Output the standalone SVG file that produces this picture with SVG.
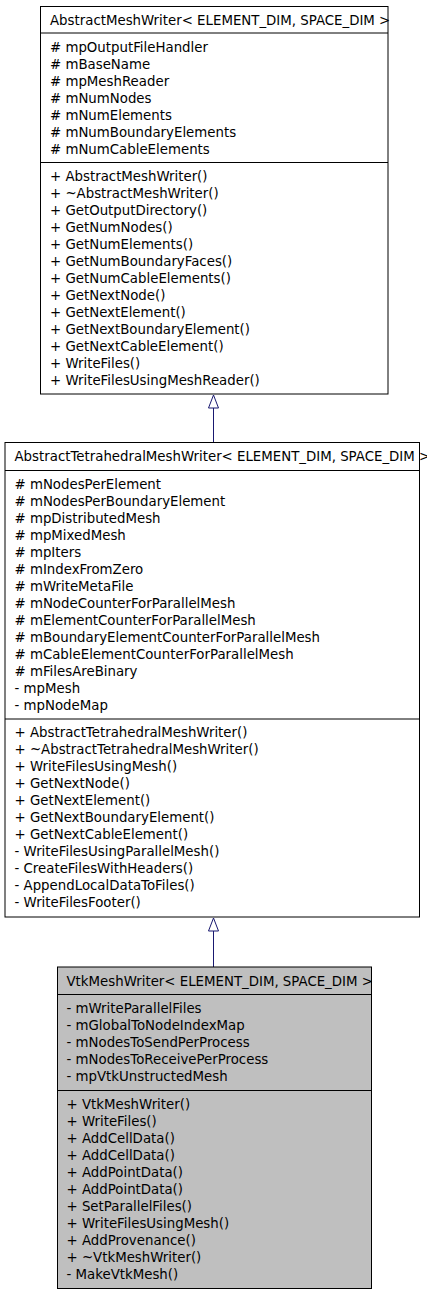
<svg xmlns="http://www.w3.org/2000/svg" width="427" height="1293" viewBox="0 0 427 1293">
<style>
text{font-family:"DejaVu Sans","Liberation Sans",sans-serif;font-size:13.33px;fill:#000}
.box{fill:#fff;stroke:#000;stroke-width:1}
.cur{fill:#bfbfbf;stroke:#000;stroke-width:1}
.sep{stroke:#000;stroke-width:1;fill:none}
.edge{stroke:#191970;stroke-width:1;fill:none}
.head{fill:#fff;stroke:#191970;stroke-width:1}
</style>
<rect width="427" height="1293" fill="#fff"/>
<g id="connectors">
<path class="edge" d="M213.5,408 V442.5"/>
<polygon class="head" points="213.5,395 208.5,408 218.5,408"/>
<path class="edge" d="M213.5,931 V967"/>
<polygon class="head" points="213.5,918 208.5,931 218.5,931"/>
</g>
<g id="AbstractMeshWriter">
<rect class="box" x="40.5" y="6.5" width="347.5" height="387.5"/>
<line class="sep" x1="40.5" y1="33" x2="388" y2="33"/>
<line class="sep" x1="40.5" y1="162.5" x2="388" y2="162.5"/>
<text x="50" y="25">AbstractMeshWriter&lt; ELEMENT_DIM, SPACE_DIM &gt;</text>
<text x="50" y="51.5"># mpOutputFileHandler</text>
<text x="50" y="68.5"># mBaseName</text>
<text x="50" y="85.5"># mpMeshReader</text>
<text x="50" y="102.5"># mNumNodes</text>
<text x="50" y="119.5"># mNumElements</text>
<text x="50" y="136.5"># mNumBoundaryElements</text>
<text x="50" y="153.5"># mNumCableElements</text>
<text x="50" y="180.5">+ AbstractMeshWriter()</text>
<text x="50" y="197.5">+ ~AbstractMeshWriter()</text>
<text x="50" y="214.5">+ GetOutputDirectory()</text>
<text x="50" y="231.5">+ GetNumNodes()</text>
<text x="50" y="248.5">+ GetNumElements()</text>
<text x="50" y="265.5">+ GetNumBoundaryFaces()</text>
<text x="50" y="282.5">+ GetNumCableElements()</text>
<text x="50" y="299.5">+ GetNextNode()</text>
<text x="50" y="316.5">+ GetNextElement()</text>
<text x="50" y="333.5">+ GetNextBoundaryElement()</text>
<text x="50" y="350.5">+ GetNextCableElement()</text>
<text x="50" y="367.5">+ WriteFiles()</text>
<text x="50" y="384.5">+ WriteFilesUsingMeshReader()</text>
</g>
<g id="AbstractTetrahedralMeshWriter">
<rect class="box" x="5" y="442.5" width="414.5" height="474.5"/>
<line class="sep" x1="5" y1="470.5" x2="419.5" y2="470.5"/>
<line class="sep" x1="5" y1="719" x2="419.5" y2="719"/>
<text x="14.5" y="461">AbstractTetrahedralMeshWriter&lt; ELEMENT_DIM, SPACE_DIM &gt;</text>
<text x="14.5" y="489"># mNodesPerElement</text>
<text x="14.5" y="506"># mNodesPerBoundaryElement</text>
<text x="14.5" y="523"># mpDistributedMesh</text>
<text x="14.5" y="540"># mpMixedMesh</text>
<text x="14.5" y="557"># mpIters</text>
<text x="14.5" y="574"># mIndexFromZero</text>
<text x="14.5" y="591"># mWriteMetaFile</text>
<text x="14.5" y="608"># mNodeCounterForParallelMesh</text>
<text x="14.5" y="625"># mElementCounterForParallelMesh</text>
<text x="14.5" y="642"># mBoundaryElementCounterForParallelMesh</text>
<text x="14.5" y="659"># mCableElementCounterForParallelMesh</text>
<text x="14.5" y="676"># mFilesAreBinary</text>
<text x="14.5" y="693">- mpMesh</text>
<text x="14.5" y="710">- mpNodeMap</text>
<text x="14.5" y="737">+ AbstractTetrahedralMeshWriter()</text>
<text x="14.5" y="754">+ ~AbstractTetrahedralMeshWriter()</text>
<text x="14.5" y="771">+ WriteFilesUsingMesh()</text>
<text x="14.5" y="788">+ GetNextNode()</text>
<text x="14.5" y="805">+ GetNextElement()</text>
<text x="14.5" y="822">+ GetNextBoundaryElement()</text>
<text x="14.5" y="839">+ GetNextCableElement()</text>
<text x="14.5" y="856">- WriteFilesUsingParallelMesh()</text>
<text x="14.5" y="873">- CreateFilesWithHeaders()</text>
<text x="14.5" y="890">- AppendLocalDataToFiles()</text>
<text x="14.5" y="907">- WriteFilesFooter()</text>
</g>
<g id="VtkMeshWriter">
<rect class="cur" x="57.5" y="967" width="314" height="321.5"/>
<line class="sep" x1="57.5" y1="994.5" x2="371.5" y2="994.5"/>
<line class="sep" x1="57.5" y1="1090.5" x2="371.5" y2="1090.5"/>
<text x="66.5" y="985.5">VtkMeshWriter&lt; ELEMENT_DIM, SPACE_DIM &gt;</text>
<text x="66.5" y="1013">- mWriteParallelFiles</text>
<text x="66.5" y="1030">- mGlobalToNodeIndexMap</text>
<text x="66.5" y="1047">- mNodesToSendPerProcess</text>
<text x="66.5" y="1064">- mNodesToReceivePerProcess</text>
<text x="66.5" y="1081">- mpVtkUnstructedMesh</text>
<text x="66.5" y="1109">+ VtkMeshWriter()</text>
<text x="66.5" y="1126">+ WriteFiles()</text>
<text x="66.5" y="1143">+ AddCellData()</text>
<text x="66.5" y="1160">+ AddCellData()</text>
<text x="66.5" y="1177">+ AddPointData()</text>
<text x="66.5" y="1194">+ AddPointData()</text>
<text x="66.5" y="1211">+ SetParallelFiles()</text>
<text x="66.5" y="1228">+ WriteFilesUsingMesh()</text>
<text x="66.5" y="1245">+ AddProvenance()</text>
<text x="66.5" y="1262">+ ~VtkMeshWriter()</text>
<text x="66.5" y="1279">- MakeVtkMesh()</text>
</g>
</svg>
